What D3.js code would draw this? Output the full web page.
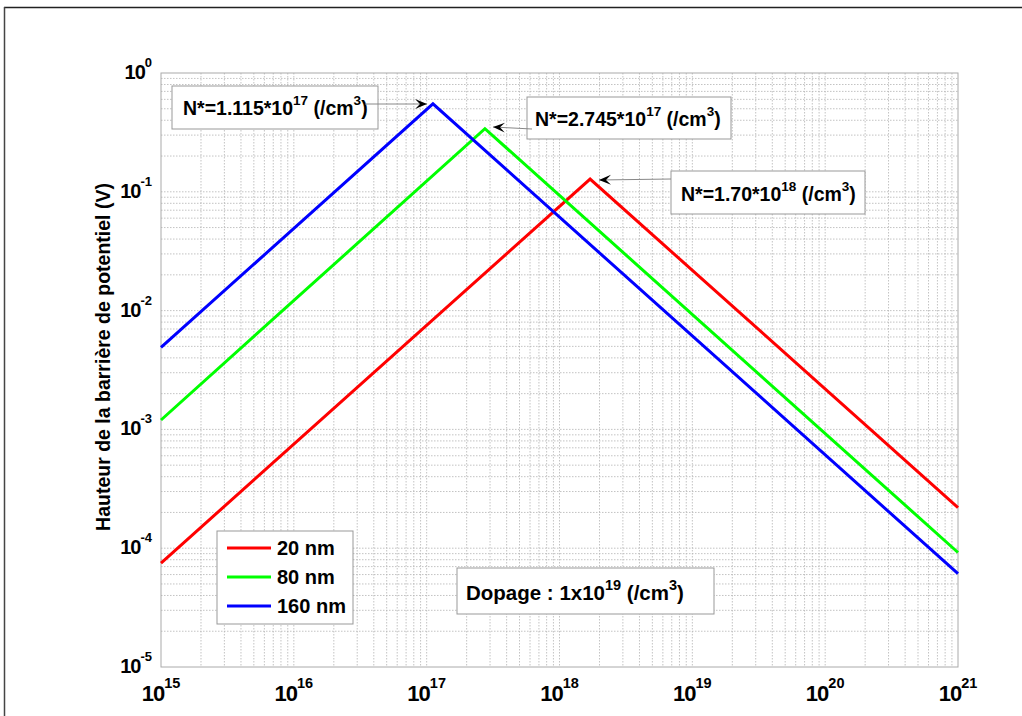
<!DOCTYPE html>
<html>
<head>
<meta charset="utf-8">
<script src="https://cdn.jsdelivr.net/npm/d3@7"></script>
<style>
  body { margin: 0; background: #fff; }
  svg { font-family: "Liberation Sans", Arial, sans-serif; font-weight: bold; }
</style>
</head>
<body>
<div id="chart"></div>
<script>
// Data: three straight segments on log-log axes
const seriesNames = ["20 nm", "80 nm", "160 nm"];
const seriesColors = ["#ff0000", "#00ff00", "#0000ff"];
const dopRed = [1e15, 1.70e18, 1e21];
const vRed = [7.5e-5, 0.128, 2.2e-4];
const dopGreen = [1e15, 2.745e17, 1e21];
const vGreen = [1.2e-3, 0.34, 9.2e-5];
const dopBlue = [1e15, 1.115e17, 1e21];
const vBlue = [4.9e-3, 0.55, 6.1e-5];
const xTickExp = [15, 16, 17, 18, 19, 20, 21];
const yTickExp = [0, -1, -2, -3, -4, -5];
const notes = [
    { mant: "1.115", exp: "17" },
    { mant: "2.745", exp: "17" },
    { mant: "1.70", exp: "18" }
];

const W = 1022, H = 716;
const m = { left: 161, right: 958, top: 73, bottom: 667 };

const svg = d3.select("#chart").append("svg")
    .attr("width", W).attr("height", H);

// figure frame (only top and left visible)
svg.append("line").attr("x1", 4).attr("y1", 7.5).attr("x2", W).attr("y2", 7.5)
    .attr("stroke", "#222").attr("stroke-width", 1.5);
svg.append("line").attr("x1", 4.5).attr("y1", 7).attr("x2", 4.5).attr("y2", H)
    .attr("stroke", "#444").attr("stroke-width", 1.5);

const x = d3.scaleLog().domain([1e15, 1e21]).range([m.left, m.right]);
const y = d3.scaleLog().domain([1e-5, 1]).range([m.bottom, m.top]);

// grid (major + minor)
const xGrid = [], yGrid = [];
for (let e = 15; e < 21; e++) for (let k = 1; k <= 9; k++) xGrid.push(k * Math.pow(10, e));
for (let e = -5; e < 0; e++) for (let k = 1; k <= 9; k++) yGrid.push(k * Math.pow(10, e));

const grid = svg.append("g");
grid.selectAll(".gx").data(xGrid.slice(1)).join("line")
    .attr("x1", d => x(d)).attr("x2", d => x(d))
    .attr("y1", m.top).attr("y2", m.bottom)
    .attr("stroke", "#b4b4b4").attr("stroke-width", 0.8).attr("stroke-dasharray", "1.5,1.5");
grid.selectAll(".gy").data(yGrid.slice(1)).join("line")
    .attr("y1", d => y(d)).attr("y2", d => y(d))
    .attr("x1", m.left).attr("x2", m.right)
    .attr("stroke", "#b4b4b4").attr("stroke-width", 0.8).attr("stroke-dasharray", "1.5,1.5");

svg.append("rect").attr("x", m.left).attr("y", m.top)
    .attr("width", m.right - m.left).attr("height", m.bottom - m.top)
    .attr("fill", "none").attr("stroke", "#aaa").attr("stroke-width", 1);

// tick labels
const xl = svg.append("g").selectAll("text").data(xTickExp).join("text")
    .attr("x", d => x(Math.pow(10, d)))
    .attr("y", 701).attr("text-anchor", "middle")
    .attr("font-size", 22).attr("letter-spacing", -1);
xl.append("tspan").text("10");
xl.append("tspan").attr("dy", -13).attr("font-size", 14.5).attr("letter-spacing", 0).text(d => d);

const yl = svg.append("g").selectAll("text").data(yTickExp).join("text")
    .attr("x", 152).attr("y", d => y(Math.pow(10, d)) + 6)
    .attr("text-anchor", "end").attr("font-size", 20).attr("letter-spacing", -1);
yl.append("tspan").text("10");
yl.append("tspan").attr("dy", -12).attr("font-size", 13).attr("letter-spacing", 0).text(d => d);

svg.append("text")
    .attr("transform", "translate(110,357) rotate(-90)")
    .attr("text-anchor", "middle").attr("font-size", 19.5)
    .text("Hauteur de la barrière de potentiel (V)");

// curves
const line = d3.line().x(d => x(d[0])).y(d => y(d[1]));
const series = [
    d3.zip(dopRed, vRed),
    d3.zip(dopGreen, vGreen),
    d3.zip(dopBlue, vBlue)
];
svg.append("g").selectAll("path").data(series).join("path")
    .attr("d", line).attr("fill", "none")
    .attr("stroke", (d, i) => seriesColors[i]).attr("stroke-width", 3);

// arrow marker
svg.append("defs").append("marker")
    .attr("id", "head").attr("viewBox", "-12 -6 14 12")
    .attr("refX", 0).attr("refY", 0)
    .attr("markerWidth", 14).attr("markerHeight", 12)
    .attr("markerUnits", "userSpaceOnUse").attr("orient", "auto")
    .append("path").attr("d", "M0,0 L-12,-5 L-7,0 L-12,5 Z").attr("fill", "#000");

// annotation boxes
const boxes = [
    { x: 172, y: 86, w: 206, h: 43, tx: 183, ty: 115, ax1: 365, ay1: 104, ax2: 427, ay2: 104 },
    { x: 527, y: 97, w: 204, h: 42, tx: 535, ty: 126, ax1: 532, ay1: 129, ax2: 493, ay2: 127 },
    { x: 671, y: 171, w: 194, h: 43, tx: 681, ty: 201, ax1: 671, ay1: 179, ax2: 599, ay2: 180 }
];
function supText(t, parts, size, supSize) {
    t.attr("font-size", size);
    t.append("tspan").text(parts[0]);
    t.append("tspan").attr("dy", -10).attr("font-size", supSize).text(parts[1]);
    t.append("tspan").attr("dy", 10).text(" (/cm");
    t.append("tspan").attr("dy", -10).attr("font-size", supSize).text("3");
    t.append("tspan").attr("dy", 10).text(")");
}
boxes.forEach((b, i) => {
    svg.append("rect").attr("x", b.x).attr("y", b.y).attr("width", b.w).attr("height", b.h)
        .attr("fill", "#fff").attr("stroke", "#999").attr("stroke-width", 1);
    const t = svg.append("text").attr("x", b.tx).attr("y", b.ty);
    supText(t, ["N*=" + notes[i].mant + "*10", notes[i].exp], 19.5, 13.5);
    svg.append("line").attr("x1", b.ax1).attr("y1", b.ay1).attr("x2", b.ax2).attr("y2", b.ay2)
        .attr("stroke", "#888").attr("stroke-width", 1).attr("marker-end", "url(#head)");
});

// legend
const lg = svg.append("g");
lg.append("rect").attr("x", 217).attr("y", 531).attr("width", 136).attr("height", 93)
    .attr("fill", "#fff").attr("stroke", "#999");
seriesNames.forEach((n, i) => {
    const yy = 548 + i * 29;
    lg.append("line").attr("x1", 227).attr("x2", 271).attr("y1", yy).attr("y2", yy)
        .attr("stroke", seriesColors[i]).attr("stroke-width", 3);
    lg.append("text").attr("x", 277).attr("y", yy + 7).attr("font-size", 20).text(n);
});

// dopage box
svg.append("rect").attr("x", 457).attr("y", 568).attr("width", 257).attr("height", 46)
    .attr("fill", "#fff").attr("stroke", "#999");
const dt = svg.append("text").attr("x", 466).attr("y", 600);
supText(dt, ["Dopage : 1x10", "19"], 20.5, 14.5);
</script>
</body>
</html>
